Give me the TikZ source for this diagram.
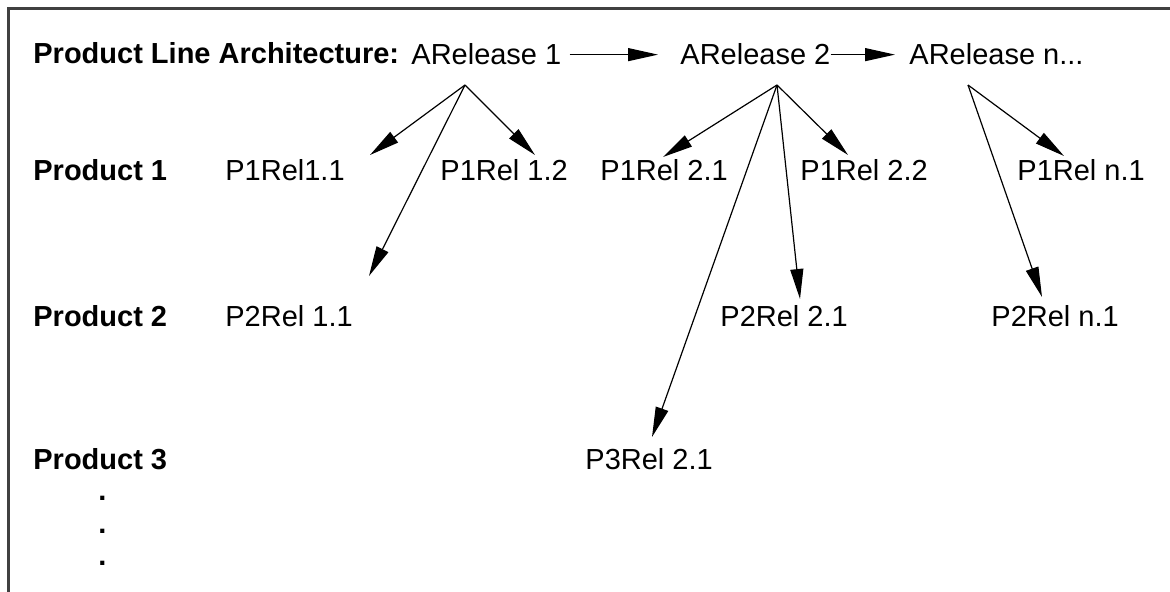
\documentclass[tikz,border=0pt]{standalone}
\usepackage{fontspec}
\setmainfont{Liberation Sans}
\usetikzlibrary{arrows.meta}
\begin{document}
\begin{tikzpicture}[x=0.5pt,y=-0.5pt,
  lbl/.style={anchor=base west, inner sep=0pt, font=\fontsize{14.5}{17}\selectfont},
  hdr/.style={anchor=base west, inner sep=0pt, font=\fontsize{14.5}{17}\selectfont\bfseries},
  conn/.style={line width=0.6pt, -{Triangle[length=15pt,width=6.5pt]}},
  framel/.style={line width=1.1pt, draw=black!75}]
\useasboundingbox (0,0) rectangle (1170,592);
\draw[framel] (8.5,592) -- (8.5,8.5) -- (1170,8.5);

% row labels
\node[hdr] (pla) at (33,64) {Product Line Architecture:};
\node[hdr] (prod1) at (33,181) {Product 1};
\node[hdr] (prod2) at (33,327) {Product 2};
\node[hdr] (prod3) at (33,469) {Product 3};
\node[hdr] (d1) at (98,500) {.};
\node[hdr] (d2) at (98,533) {.};
\node[hdr] (d3) at (98,565) {.};

% architecture releases
\node[lbl] (ar1) at (411,65) {ARelease 1};
\node[lbl] (ar2) at (680,65) {ARelease 2};
\node[lbl] (arn) at (909,65) {ARelease n...};

% product releases
\node[lbl] (p11) at (225,181) {P1Rel1.1};
\node[lbl] (p12) at (440,181) {P1Rel 1.2};
\node[lbl] (p21) at (600,181) {P1Rel 2.1};
\node[lbl] (p22) at (800,181) {P1Rel 2.2};
\node[lbl] (p1n) at (1017,181) {P1Rel n.1};
\node[lbl] (q11) at (225,327) {P2Rel 1.1};
\node[lbl] (q21) at (720,327) {P2Rel 2.1};
\node[lbl] (q2n) at (991,327) {P2Rel n.1};
\node[lbl] (r21) at (585,469) {P3Rel 2.1};

% connector end points
\coordinate (s1) at (465,85);
\coordinate (s2) at (777,85);
\coordinate (sn) at (968,85);
\coordinate (t11) at (370,155);
\coordinate (t12) at (535,155);
\coordinate (tq11) at (369,276);
\coordinate (t21) at (663,157);
\coordinate (t22) at (848,155);
\coordinate (tq21) at (800,299);
\coordinate (tr21) at (652,437);
\coordinate (t1n) at (1064,156);
\coordinate (tq2n) at (1042,297);

% horizontal arrows
\draw[conn] ([xshift=4pt]ar1.east) -- ([xshift=-11pt]ar2.west |- ar1.east);
\draw[conn] (ar2.east) -- ([xshift=-7pt]arn.west |- ar2.east);

% fan-out arrows
\draw[conn] (s1) -- (t11);
\draw[conn] (s1) -- (t12);
\draw[conn] (s1) -- (tq11);
\draw[conn] (s2) -- (t21);
\draw[conn] (s2) -- (t22);
\draw[conn] (s2) -- (tq21);
\draw[conn] (s2) -- (tr21);
\draw[conn] (sn) -- (t1n);
\draw[conn] (sn) -- (tq2n);
\end{tikzpicture}
\end{document}
